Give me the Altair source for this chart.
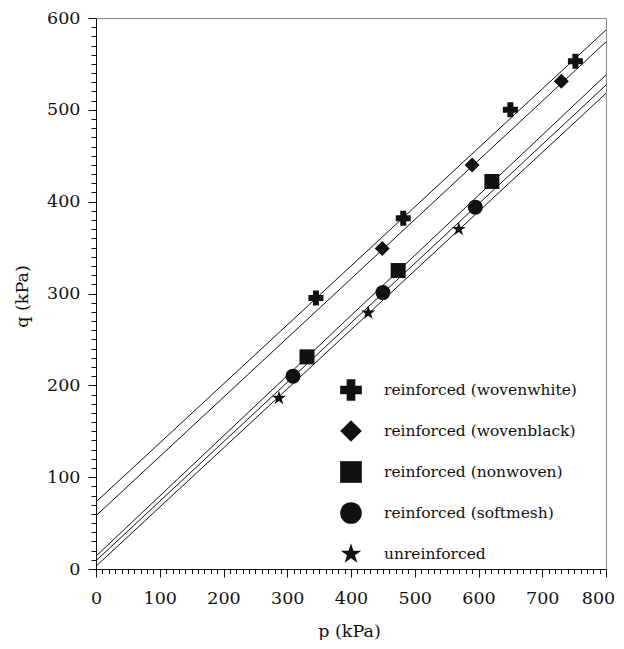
import altair as alt
import pandas as pd

# ---- data ----
series = [
    "reinforced (wovenwhite)",
    "reinforced (wovenblack)",
    "reinforced (nonwoven)",
    "reinforced (softmesh)",
    "unreinforced",
]
wovenwhite_p = [345, 482, 650, 752]
wovenwhite_q = [295, 382, 500, 553]
wovenblack_p = [449, 590, 730]
wovenblack_q = [349, 440, 531]
nonwoven_p = [331, 474, 621]
nonwoven_q = [231, 325, 422]
softmesh_p = [309, 450, 595]
softmesh_q = [210, 301, 394]
unreinforced_p = [287, 427, 569]
unreinforced_q = [186, 279, 370]

# failure lines: q at p = 0 and q at p = 800
line_p = [0, 800]
line_q_start = [73, 58, 14, 9, 3]
line_q_end = [587, 574, 538, 527, 518]

x_ticks = list(range(0, 801, 10))
y_ticks = list(range(0, 601, 10))

# ---- tables ----
pts = []
for name, ps, qs in zip(
    series,
    [wovenwhite_p, wovenblack_p, nonwoven_p, softmesh_p, unreinforced_p],
    [wovenwhite_q, wovenblack_q, nonwoven_q, softmesh_q, unreinforced_q],
):
    for p, q in zip(ps, qs):
        pts.append({"series": name, "p": p, "q": q})
pts_df = pd.DataFrame(pts)

lines = []
for name, q0, q1 in zip(series, line_q_start, line_q_end):
    lines.append({"line": name, "p": line_p[0], "q": q0})
    lines.append({"line": name, "p": line_p[1], "q": q1})
lines_df = pd.DataFrame(lines)

STAR = ("M0,-1L0.225,-0.309L0.951,-0.309L0.363,0.118L0.588,0.809L0,0.382"
        "L-0.588,0.809L-0.363,0.118L-0.951,-0.309L-0.225,-0.309Z")
shapes = ["cross", "diamond", "square", "circle", STAR]

FONT = "DejaVu Serif"
FS = 17.5
INK = "#111111"

x_axis = alt.Axis(
    values=x_ticks,
    labelExpr="datum.value % 100 === 0 ? datum.label : ''",
    labelOverlap=False,
    labelFlush=False,
    labelOffset={"condition": {"test": "datum.value === 800", "value": -8}, "value": 0},
    tickSize={"condition": {"test": "datum.value % 100 === 0", "value": 8}, "value": 4.5},
    tickColor=INK,
    domainColor=INK,
    grid=False,
    labelFont=FONT,
    labelFontSize=FS,
    labelColor=INK,
    labelPadding=12,
    title="p (kPa)",
    titleFont=FONT,
    titleFontSize=FS,
    titleFontWeight="normal",
    titleColor=INK,
    titleX=253,
    titleY=67,
    titleBaseline="alphabetic",
)
y_axis = alt.Axis(
    values=y_ticks,
    labelExpr="datum.value % 100 === 0 ? datum.label : ''",
    labelOverlap=False,
    labelFlush=False,
    tickSize={"condition": {"test": "datum.value % 100 === 0", "value": 8}, "value": 5},
    tickColor=INK,
    domainColor=INK,
    grid=False,
    labelFont=FONT,
    labelFontSize=FS,
    labelColor=INK,
    labelPadding=8,
    title="q (kPa)",
    titleFont=FONT,
    titleFontSize=FS,
    titleFontWeight="normal",
    titleColor=INK,
    titleAngle=270,
    titleX=-74,
    titleY=278,
    titleBaseline="middle",
)

x_enc = alt.X("p:Q", scale=alt.Scale(domain=[0, 800], nice=False), axis=x_axis)
y_enc = alt.Y("q:Q", scale=alt.Scale(domain=[0, 600], nice=False), axis=y_axis)

line_layer = alt.Chart(lines_df).mark_line(color=INK, strokeWidth=1, clip=True).encode(
    x=x_enc, y=y_enc, detail="line:N"
)

point_layer = alt.Chart(pts_df).mark_point(filled=True, color=INK, opacity=1, size=225).encode(
    x=x_enc,
    y=y_enc,
    shape=alt.Shape(
        "series:N",
        scale=alt.Scale(domain=series, range=shapes),
        legend=alt.Legend(
            title=None,
            orient="none",
            legendX=244,
            legendY=361,
            padding=0,
            symbolSize=470,
            symbolFillColor=INK,
            symbolStrokeColor=INK,
            symbolStrokeWidth=0,
            symbolOpacity=1,
            labelFont=FONT,
            labelFontSize=15.5,
            labelColor=INK,
            labelOffset=22,
            rowPadding=19,
            labelLimit=400,
        ),
    ),
)

chart = (
    alt.layer(line_layer, point_layer)
    .properties(
        width=510,
        height=551,
        autosize=alt.AutoSizeParams(type="none"),
        padding={"left": 88, "top": 10, "right": 10, "bottom": 71},
        background="white",
    )
    .configure_view(stroke="#8a8a8a", strokeWidth=1)
)

chart.save("out.html", embed_options={"renderer": "svg", "actions": False})
